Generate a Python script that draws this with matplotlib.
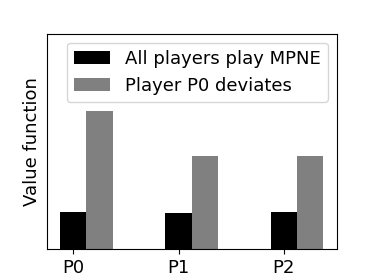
import numpy as np
import matplotlib
matplotlib.use("Agg")
import matplotlib.pyplot as plt

# value of each player
players = ["P0", "P1", "P2"]
mpne = [0.37, 0.365, 0.375]
deviate = [1.38, 0.93, 0.93]

x = np.arange(len(players))
w = 0.25

fig, ax = plt.subplots(figsize=(3.74, 2.8), dpi=100)
ax.bar(x, mpne, w, color="black", label="All players play MPNE")
ax.bar(x + w, deviate, w, color="gray", label="Player P0 deviates")
ax.set_xticks(x)
ax.set_xticklabels(players, fontsize=13)
ax.set_yticks([])
ax.set_ylim(0, 2.15)
ax.set_ylabel("Value function", fontsize=13)
ax.legend(loc="upper right", fontsize=13)

plt.savefig("out.png", dpi=100)
